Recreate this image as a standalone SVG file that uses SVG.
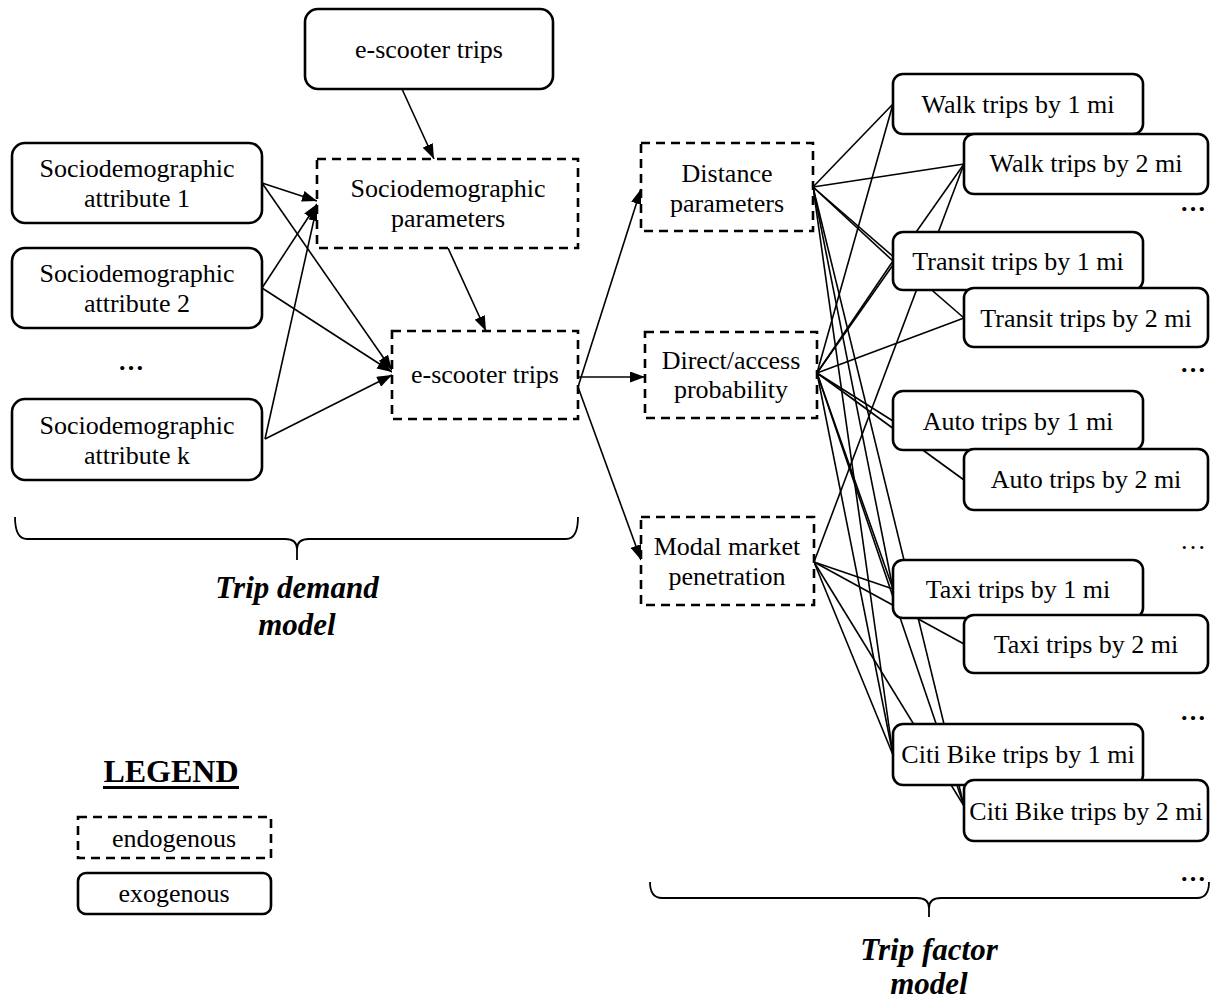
<svg xmlns="http://www.w3.org/2000/svg" width="1211" height="1000" viewBox="0 0 1211 1000">
<defs>
<marker id="ah" markerWidth="15" markerHeight="11" refX="15" refY="5.5" orient="auto" markerUnits="userSpaceOnUse"><path d="M0,0 L15,5.5 L0,11 Z" fill="#000"/></marker>
</defs>
<style>
.exo{fill:#fff;stroke:#000;stroke-width:2.6}
.endo{fill:#fff;stroke:#000;stroke-width:2.6;stroke-dasharray:9,6}
.t{font-family:"Liberation Serif","Times New Roman",serif;font-size:26px;fill:#000;text-anchor:middle}
.dots{font-family:"Liberation Serif","Times New Roman",serif;font-size:26px;font-weight:bold;fill:#000;text-anchor:middle}
.bi{font-family:"Liberation Serif","Times New Roman",serif;font-size:31px;font-weight:bold;font-style:italic;fill:#000;text-anchor:middle}
.c{stroke:#000;stroke-width:1.6;fill:none}
.a{stroke:#000;stroke-width:1.6;fill:none;marker-end:url(#ah)}
.br{stroke:#000;stroke-width:1.8;fill:none}
</style>
<rect width="1211" height="1000" fill="#fff"/>

<g id="connectors">
<line class="a" x1="402" y1="89" x2="434" y2="159"/>
<line class="a" x1="262" y1="183" x2="317" y2="201"/>
<line class="a" x1="262" y1="183" x2="392" y2="370"/>
<line class="a" x1="262" y1="288" x2="317" y2="204"/>
<line class="a" x1="262" y1="288" x2="392" y2="372"/>
<line class="a" x1="265" y1="439" x2="317" y2="206"/>
<line class="a" x1="265" y1="439" x2="392" y2="375"/>
<line class="a" x1="448" y1="248" x2="486" y2="331"/>
<line class="a" x1="578" y1="387" x2="641" y2="189"/>
<line class="a" x1="578" y1="377" x2="645" y2="377"/>
<line class="a" x1="578" y1="387" x2="641" y2="560"/>
<!-- Distance parameters -->
<line class="c" x1="813" y1="187" x2="893" y2="104"/>
<line class="c" x1="813" y1="187" x2="964" y2="164"/>
<line class="c" x1="813" y1="187" x2="893" y2="261"/>
<line class="c" x1="813" y1="187" x2="964" y2="318"/>
<line class="c" x1="813" y1="187" x2="893" y2="589"/>
<line class="c" x1="813" y1="187" x2="893" y2="755"/>
<line class="c" x1="813" y1="187" x2="964" y2="806"/>
<!-- Direct/access probability -->
<line class="c" x1="817" y1="373" x2="893" y2="104"/>
<line class="c" x1="817" y1="373" x2="964" y2="164"/>
<line class="c" x1="817" y1="373" x2="893" y2="261"/>
<line class="c" x1="817" y1="373" x2="964" y2="318"/>
<line class="c" x1="817" y1="373" x2="893" y2="421"/>
<line class="c" x1="817" y1="373" x2="964" y2="480"/>
<line class="c" x1="817" y1="373" x2="893" y2="589"/>
<line class="c" x1="817" y1="373" x2="893" y2="755"/>
<line class="c" x1="817" y1="373" x2="964" y2="806"/>
<!-- Modal market penetration -->
<line class="c" x1="814" y1="562" x2="964" y2="164"/>
<line class="c" x1="814" y1="562" x2="893" y2="589"/>
<line class="c" x1="814" y1="562" x2="964" y2="644"/>
<line class="c" x1="814" y1="562" x2="893" y2="755"/>
<line class="c" x1="814" y1="562" x2="964" y2="806"/>
</g>

<g id="escooter-exo"><rect class="exo" x="305" y="9" width="248" height="80" rx="13"/><text class="t" x="429" y="58">e-scooter trips</text></g>
<g id="attr1"><rect class="exo" x="12" y="143" width="250" height="80" rx="13"/><text class="t" x="137" y="177">Sociodemographic</text><text class="t" x="137" y="207">attribute 1</text></g>
<g id="attr2"><rect class="exo" x="12" y="248" width="250" height="80" rx="13"/><text class="t" x="137" y="282">Sociodemographic</text><text class="t" x="137" y="312">attribute 2</text></g>
<g id="attr-dots"><text class="dots" x="131" y="370">…</text></g>
<g id="attrk"><rect class="exo" x="12" y="399" width="250" height="81" rx="13"/><text class="t" x="137" y="434">Sociodemographic</text><text class="t" x="137" y="464">attribute k</text></g>
<g id="socio-params"><rect class="endo" x="317" y="159" width="261" height="89"/><text class="t" x="448" y="197">Sociodemographic</text><text class="t" x="448" y="227">parameters</text></g>
<g id="escooter-endo"><rect class="endo" x="392" y="331" width="186" height="88"/><text class="t" x="485" y="383">e-scooter trips</text></g>
<g id="distance"><rect class="endo" x="641" y="143" width="172" height="88"/><text class="t" x="727" y="182">Distance</text><text class="t" x="727" y="212">parameters</text></g>
<g id="direct"><rect class="endo" x="645" y="332" width="172" height="86"/><text class="t" x="731" y="369">Direct/access</text><text class="t" x="731" y="398">probability</text></g>
<g id="modal"><rect class="endo" x="641" y="517" width="173" height="88"/><text class="t" x="727" y="555">Modal market</text><text class="t" x="727" y="585">penetration</text></g>

<g id="walk1"><rect class="exo" x="893" y="74" width="250" height="60" rx="10"/><text class="t" x="1018" y="113">Walk trips by 1 mi</text></g>
<g id="walk2"><rect class="exo" x="964" y="134" width="244" height="60" rx="10"/><text class="t" x="1086" y="172">Walk trips by 2 mi</text></g>
<g id="dots1"><text class="dots" x="1193" y="211">…</text></g>
<g id="transit1"><rect class="exo" x="893" y="232" width="250" height="58" rx="10"/><text class="t" x="1018" y="270">Transit trips by 1 mi</text></g>
<g id="transit2"><rect class="exo" x="964" y="288" width="244" height="59" rx="10"/><text class="t" x="1086" y="327">Transit trips by 2 mi</text></g>
<g id="dots2"><text class="dots" x="1193" y="372">…</text></g>
<g id="auto1"><rect class="exo" x="893" y="391" width="250" height="59" rx="10"/><text class="t" x="1018" y="430">Auto trips by 1 mi</text></g>
<g id="auto2"><rect class="exo" x="964" y="449" width="244" height="61" rx="10"/><text class="t" x="1086" y="488">Auto trips by 2 mi</text></g>
<g id="dots3"><text class="t" x="1193" y="549">…</text></g>
<g id="taxi1"><rect class="exo" x="893" y="560" width="250" height="58" rx="10"/><text class="t" x="1018" y="598">Taxi trips by 1 mi</text></g>
<g id="taxi2"><rect class="exo" x="964" y="615" width="244" height="58" rx="10"/><text class="t" x="1086" y="653">Taxi trips by 2 mi</text></g>
<g id="dots4"><text class="dots" x="1193" y="720">…</text></g>
<g id="citi1"><rect class="exo" x="893" y="724" width="250" height="61" rx="10"/><text class="t" x="1018" y="763">Citi Bike trips by 1 mi</text></g>
<g id="citi2"><rect class="exo" x="964" y="780" width="244" height="61" rx="10"/><text class="t" x="1086" y="820">Citi Bike trips by 2 mi</text></g>
<g id="dots5"><text class="dots" x="1193" y="881">…</text></g>

<g id="trip-demand-brace">
<path class="br" d="M15,517 Q15,539 27,539 L285,539 Q297,539 297,549 L297,560 M297,549 Q297,539 309,539 L566,539 Q578,539 578,517"/>
<text class="bi" x="297" y="598">Trip demand</text>
<text class="bi" x="297" y="635">model</text>
</g>
<g id="trip-factor-brace">
<path class="br" d="M650,882 Q650,898 662,898 L917,898 Q929,898 929,908 L929,917 M929,908 Q929,898 941,898 L1197,898 Q1209,898 1209,882"/>
<text class="bi" x="929" y="960">Trip factor</text>
<text class="bi" x="929" y="994">model</text>
</g>

<g id="legend">
<text x="171" y="782" font-family="Liberation Serif, Times New Roman, serif" font-size="32" font-weight="bold" text-anchor="middle">LEGEND</text>
<rect x="103" y="786" width="136" height="3" fill="#000"/>
<g id="legend-endogenous"><rect class="endo" x="78" y="817" width="193" height="41"/><text class="t" x="174" y="847">endogenous</text></g>
<g id="legend-exogenous"><rect class="exo" x="78" y="873" width="193" height="41" rx="8"/><text class="t" x="174" y="902">exogenous</text></g>
</g>
</svg>
